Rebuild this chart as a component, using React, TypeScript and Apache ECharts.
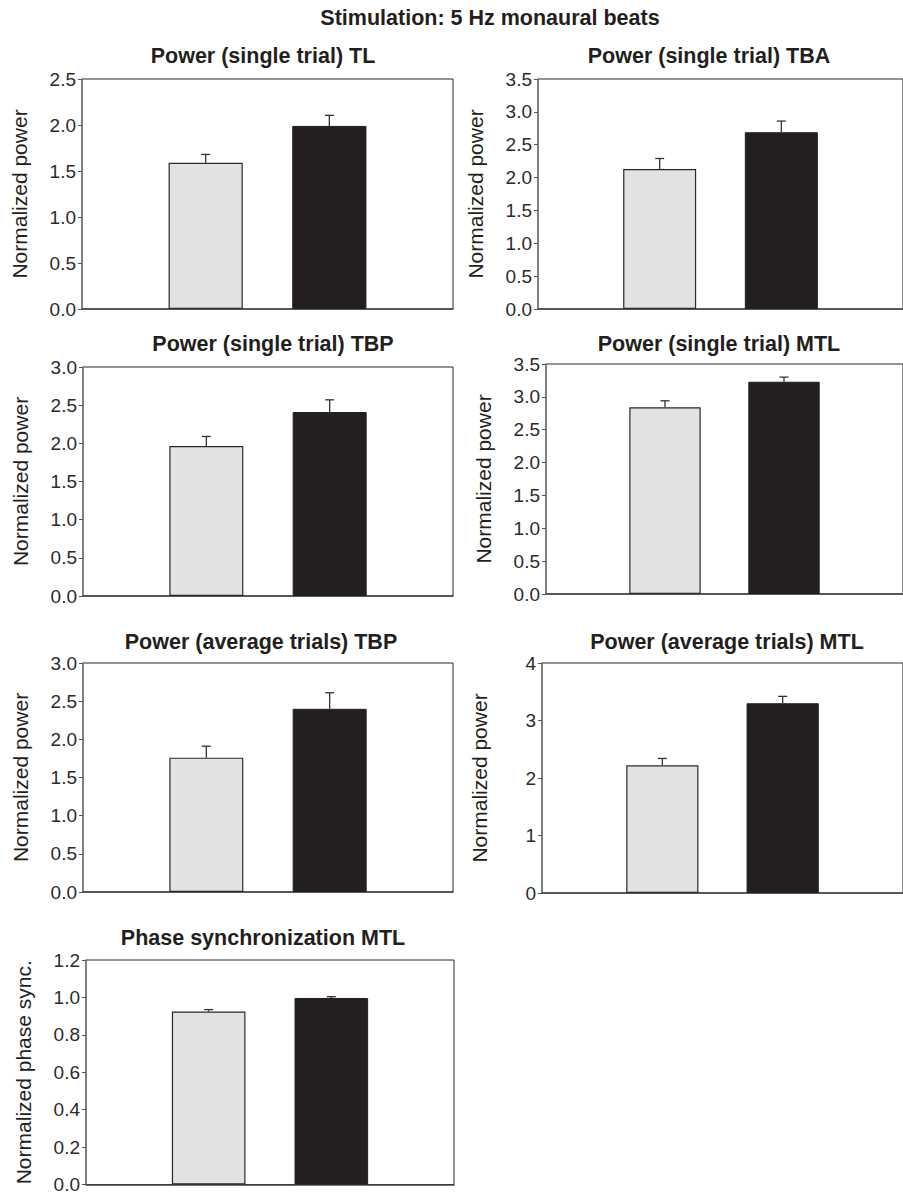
import React, { useEffect, useRef } from "react";
import * as echarts from "echarts";

// ---- data ----
const mainTitle = "Stimulation: 5 Hz monaural beats";
const categories = ["", "Control", "Stimulation", ""];
const panelTitles = [
  "Power (single trial) TL",
  "Power (single trial) TBA",
  "Power (single trial) TBP",
  "Power (single trial) MTL",
  "Power (average trials) TBP",
  "Power (average trials) MTL",
  "Phase synchronization MTL",
];
const yAxisNames = [
  "Normalized power",
  "Normalized power",
  "Normalized power",
  "Normalized power",
  "Normalized power",
  "Normalized power",
  "Normalized phase sync.",
];
const yMax = [2.5, 3.5, 3.0, 3.5, 3.0, 4, 1.2];
const yInterval = [0.5, 0.5, 0.5, 0.5, 0.5, 1, 0.2];
const yDecimals = [1, 1, 1, 1, 1, 0, 1];
const lightValues = [1.59, 2.13, 1.965, 2.84, 1.76, 2.22, 0.925];
const lightErrorTops = [1.68, 2.29, 2.09, 2.94, 1.91, 2.34, 0.935];
const darkValues = [1.99, 2.69, 2.41, 3.23, 2.4, 3.3, 0.997];
const darkErrorTops = [2.105, 2.86, 2.57, 3.3, 2.61, 3.42, 1.004];

// ---- layout (pixels) ----
const grids = [
  { left: 82, top: 79, width: 371, height: 230 },
  { left: 538, top: 79, width: 370, height: 230 },
  { left: 83, top: 367, width: 370, height: 229 },
  { left: 546, top: 364, width: 370, height: 230 },
  { left: 83, top: 663, width: 370, height: 229 },
  { left: 542, top: 663, width: 370, height: 230 },
  { left: 86, top: 960, width: 368, height: 229 },
];
const titlePos = [
  [263, 56],
  [709, 56],
  [273, 344],
  [719, 344],
  [261, 642],
  [727, 642],
  [263, 938],
];

const FONT = '"Liberation Sans", Arial, Helvetica, sans-serif';
const INK = "#231f20";
const LIGHT = "#e1e2e4";

export default function App() {
  const ref = useRef<HTMLDivElement>(null);

  useEffect(() => {
    if (!ref.current) return;
    const chart = echarts.init(ref.current, null, { renderer: "svg" });

    const grid: any[] = [];
    const xAxis: any[] = [];
    const yAxis: any[] = [];
    const series: any[] = [];
    const graphic: any[] = [];

    graphic.push({
      type: "text",
      x: 490,
      y: 18,
      style: {
        text: mainTitle,
        fontSize: 21.5,
        fontWeight: "bold",
        fontFamily: FONT,
        fill: INK,
        align: "center",
        verticalAlign: "middle",
      },
    });

    panelTitles.forEach((t, i) => {
      const g = grids[i];
      grid.push({
        left: g.left,
        top: g.top,
        width: g.width,
        height: g.height,
        show: true,
        borderColor: "#2a2a2a",
        borderWidth: 1,
        backgroundColor: "transparent",
        containLabel: false,
      });
      xAxis.push({
        type: "category",
        gridIndex: i,
        data: categories,
        boundaryGap: false,
        axisLine: { show: true, lineStyle: { color: "#444", width: 1.5 } },
        axisTick: { show: false },
        axisLabel: { show: false },
        splitLine: { show: false },
      });
      const dec = yDecimals[i];
      yAxis.push({
        type: "value",
        gridIndex: i,
        min: 0,
        max: yMax[i],
        interval: yInterval[i],
        name: yAxisNames[i],
        nameLocation: "middle",
        nameGap: 52,
        nameTextStyle: { fontSize: 21, fontFamily: FONT, color: INK },
        axisLine: { show: true, lineStyle: { color: "#7a7a7a", width: 1.5 } },
        axisTick: { show: true, length: 4, lineStyle: { color: "#555", width: 1 } },
        axisLabel: {
          show: true,
          margin: 6,
          fontSize: 19,
          fontFamily: FONT,
          color: "#2b2b2b",
          formatter: (v: number) => v.toFixed(dec),
        },
        splitLine: { show: false },
      });
      series.push({
        type: "bar",
        xAxisIndex: i,
        yAxisIndex: i,
        barWidth: "60%",
        data: [
          null,
          {
            value: lightValues[i],
            itemStyle: { color: LIGHT, borderColor: "#2a2a2a", borderWidth: 1.2 },
          },
          {
            value: darkValues[i],
            itemStyle: { color: INK, borderColor: INK, borderWidth: 1 },
          },
          null,
        ],
        z: 2,
      });
      series.push({
        type: "custom",
        xAxisIndex: i,
        yAxisIndex: i,
        z: 3,
        encode: { x: 0, y: [1, 2] },
        data: [
          [1, lightValues[i], lightErrorTops[i]],
          [2, darkValues[i], darkErrorTops[i]],
        ],
        renderItem: (params: any, api: any) => {
          const x = api.value(0);
          const v = api.value(1);
          const e = api.value(2);
          const p0 = api.coord([x, v]);
          const p1 = api.coord([x, e]);
          const st = { stroke: "#333", lineWidth: 1.3 };
          return {
            type: "group",
            children: [
              { type: "line", shape: { x1: p0[0], y1: p0[1], x2: p1[0], y2: p1[1] }, style: st },
              { type: "line", shape: { x1: p1[0] - 4.5, y1: p1[1], x2: p1[0] + 4.5, y2: p1[1] }, style: st },
            ],
          };
        },
      });
      graphic.push({
        type: "text",
        x: titlePos[i][0],
        y: titlePos[i][1],
        style: {
          text: t,
          fontSize: 21.5,
          fontWeight: "bold",
          fontFamily: FONT,
          fill: INK,
          align: "center",
          verticalAlign: "middle",
        },
      });
    });

    chart.setOption({
      animation: false,
      backgroundColor: "#ffffff",
      textStyle: { fontFamily: FONT },
      grid,
      xAxis,
      yAxis,
      series,
      graphic,
    });

    return () => chart.dispose();
  }, []);

  return (
    <div
      ref={ref}
      style={{ position: "absolute", left: 0, top: 0, width: 903, height: 1194 }}
    />
  );
}
